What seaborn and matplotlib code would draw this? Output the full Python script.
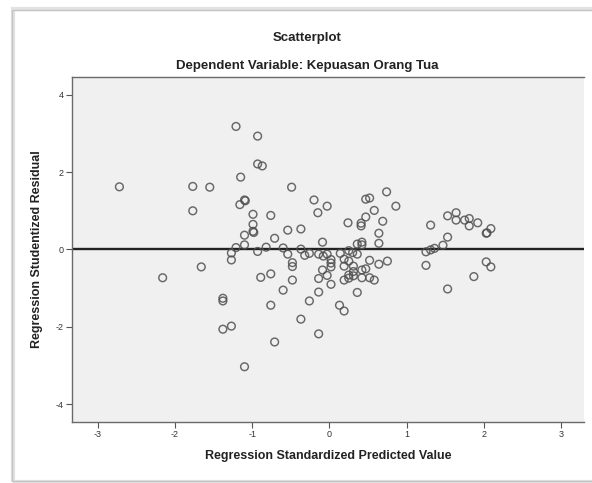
import matplotlib
matplotlib.use('Agg')
import matplotlib.pyplot as plt
import seaborn as sns
import pandas as pd
from matplotlib.patches import Rectangle

# values
predicted = [-1.21, -0.93, -0.93, -0.87, -2.72, -1.77, -1.55, -1.15, -1.10, -1.09,
             -1.16, -1.77, -0.99, -0.99, -0.99, -0.98, -1.10, -1.10, -1.21, -0.93,
             -1.27, -1.27, -2.16, -1.66, -0.89, -1.38, -1.38, -1.38, -1.27, -1.10,
             -0.49, -0.20, -0.03, -0.15, -0.76, -0.54, -0.37, -0.71, -0.09, -0.82,
             -0.60, -0.54, -0.37, -0.32, -0.26, -0.14, -0.08, -0.03, 0.14, 0.24,
             0.41, 0.41, 0.47, 0.47, 0.52, 0.58, 0.69, 0.74, 0.86, 0.64,
             0.64, 0.36, 0.42, 0.42, 0.25, 0.30, 0.36, 1.31, 1.25, 1.31,
             1.36, 1.25, -0.48, -0.48, 0.02, 0.02, 0.02, 0.19, 0.19, 0.25,
             0.31, 0.52, 0.64, 0.75, -0.76, -0.48, -0.60, -0.14, -0.09, -0.03,
             0.02, 0.19, 0.25, 0.25, 0.31, 0.31, 0.42, 0.47, 0.42, 0.52,
             0.58, -0.14, 0.36, -0.26, -0.76, 0.13, 0.19, -0.37, -0.14, -0.71,
             1.53, 1.64, 1.64, 1.75, 1.81, 1.81, 1.92, 2.09, 2.03, 2.04,
             1.53, 1.47, 2.03, 2.09, 1.87, 1.53]
residual = [3.18, 2.93, 2.21, 2.16, 1.62, 1.63, 1.61, 1.87, 1.28, 1.26,
            1.16, 1.00, 0.91, 0.65, 0.47, 0.44, 0.37, 0.12, 0.05, -0.05,
            -0.09, -0.27, -0.73, -0.45, -0.72, -1.26, -1.33, -2.06, -1.98, -3.03,
            1.61, 1.28, 1.12, 0.95, 0.88, 0.50, 0.53, 0.29, 0.19, 0.06,
            0.04, -0.12, 0.01, -0.15, -0.10, -0.12, -0.17, -0.12, -0.10, 0.69,
            0.68, 0.61, 0.84, 1.30, 1.33, 1.01, 0.73, 1.49, 1.12, 0.42,
            0.16, 0.14, 0.19, 0.12, -0.03, -0.08, -0.12, 0.63, -0.06, -0.01,
            0.03, -0.41, -0.34, -0.44, -0.26, -0.35, -0.45, -0.25, -0.43, -0.30,
            -0.43, -0.28, -0.38, -0.30, -0.63, -0.79, -1.05, -0.75, -0.53, -0.67,
            -0.90, -0.79, -0.74, -0.66, -0.57, -0.68, -0.53, -0.50, -0.73, -0.73,
            -0.79, -1.10, -1.11, -1.33, -1.44, -1.44, -1.59, -1.80, -2.18, -2.39,
            0.87, 0.95, 0.76, 0.76, 0.80, 0.61, 0.69, 0.54, 0.42, 0.43,
            0.32, 0.11, -0.32, -0.45, -0.70, -1.02]
x_ticks = [-3, -2, -1, 0, 1, 2, 3]
y_ticks = [-4, -2, 0, 2, 4]

df = pd.DataFrame({'pred': predicted, 'resid': residual})

sns.set_style('ticks')
plt.rcParams['font.family'] = ['Liberation Sans', 'DejaVu Sans']
plt.rcParams['axes.unicode_minus'] = False

fig = plt.figure(figsize=(5.92, 4.83), dpi=100)
fig.patch.set_facecolor('white')

# chart frame with soft shadow
fig.patches.append(Rectangle((13 / 592, 1 - 482 / 483), 1.2, 473 / 483, transform=fig.transFigure,
                             facecolor='none', edgecolor='#e2e2e2', lw=3, zorder=0))
fig.patches.append(Rectangle((12 / 592, 1 - 481 / 483), 1.2, 471 / 483, transform=fig.transFigure,
                             facecolor='none', edgecolor='#c4c4c4', lw=1, zorder=0))

ax = fig.add_axes([72.3 / 592, 1 - 421.7 / 483, 512 / 592, 344.4 / 483])
ax.set_facecolor('#f0f0f0')

sns.scatterplot(data=df, x='pred', y='resid', ax=ax, s=31, linewidth=1.05,
                edgecolor='#505050', legend=False, zorder=3)
ax.collections[0].set_facecolor('none')
ax.collections[0].set_alpha(0.85)

ax.axhline(0, color='#222222', lw=1.7, zorder=2)

ax.set_xlim(-3.33, 3.30)
ax.set_ylim(-4.45, 4.45)
ax.set_xticks(x_ticks)
ax.set_yticks(y_ticks)
ax.set_xticklabels([str(t) for t in x_ticks])
ax.set_yticklabels([str(t) for t in y_ticks])
ax.tick_params(axis='both', labelsize=6.5, length=4, width=0.8, color='#555555',
               labelcolor='#333333', pad=2)

for side in ['left', 'bottom', 'top']:
    ax.spines[side].set_color('#6a6a6a')
    ax.spines[side].set_linewidth(1.0)
ax.spines['right'].set_visible(False)

ax.set_xlabel('Regression Standardized Predicted Value', fontsize=9, fontweight='bold',
              color='#222222', labelpad=8)
ax.set_ylabel('Regression Studentized Residual', fontsize=9, fontweight='bold',
              color='#222222', labelpad=9)

fig.text(307 / 592, 1 - 38 / 483, 'Scatterplot', ha='center', va='center',
         fontsize=9.5, fontweight='bold', color='#222222')
fig.text(307 / 592, 1 - 66 / 483, 'Dependent Variable: Kepuasan Orang Tua', ha='center',
         va='center', fontsize=9.5, fontweight='bold', color='#222222')

fig.savefig('out.png', dpi=100)
